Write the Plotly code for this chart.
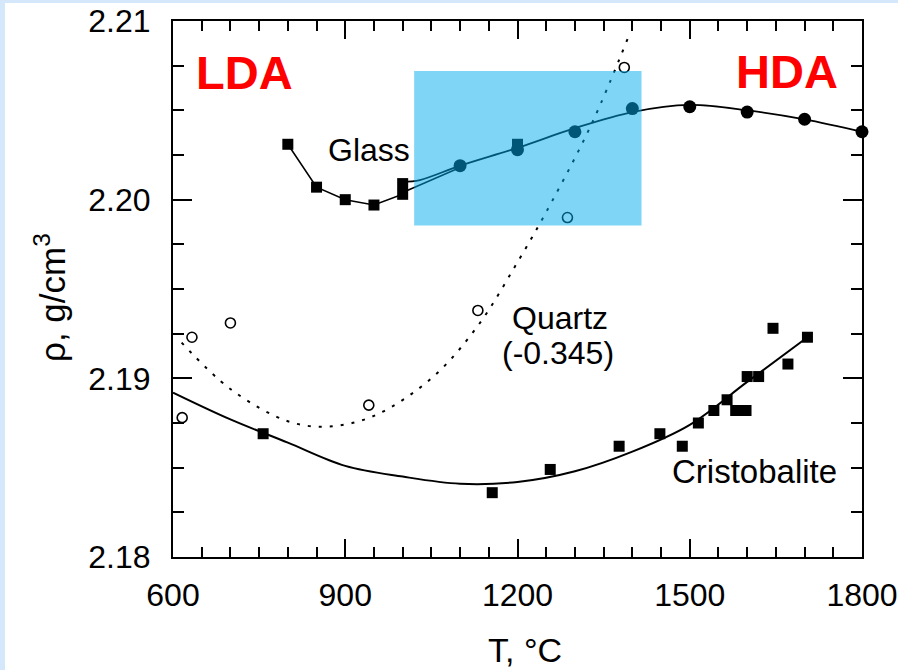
import plotly.graph_objects as go

# ---------------- data ----------------
glass_sq_T = [800, 850, 900, 950, 1000, 1000, 1200]
glass_sq_rho = [2.2031, 2.2007, 2.2000, 2.1997, 2.2003, 2.2009, 2.2031]

glass_ci_T = [1100, 1200, 1300, 1400, 1500, 1600, 1700, 1800]
glass_ci_rho = [2.2019, 2.2028, 2.2038, 2.2051, 2.2052, 2.2049, 2.2045, 2.2038]

glass_lda_line_T = [800, 850, 900, 950, 1000, 1000]
glass_lda_line_rho = [2.2031, 2.2007, 2.2000, 2.1997, 2.2003, 2.2009]

glass_fit_T = [1000, 1030, 1100, 1200, 1300, 1400, 1500, 1600, 1700, 1800]
glass_fit_rho = [2.2010, 2.2011, 2.2019, 2.2029, 2.2040, 2.2049, 2.2053, 2.2050, 2.2045, 2.2038]

glass_branch_T = [1000, 1100]
glass_branch_rho = [2.2004, 2.2018]

quartz_T = [616, 633, 700, 941, 1131, 1287, 1386]
quartz_rho = [2.1878, 2.1923, 2.1931, 2.1885, 2.1938, 2.1990, 2.2074]

quartz_fit_T = [615, 700, 800, 870, 950, 1050, 1130, 1200, 1260, 1330, 1393]
quartz_fit_rho = [2.1920, 2.1894, 2.1876, 2.1873, 2.1879, 2.1900, 2.1929, 2.1965, 2.1999, 2.2043, 2.2091]

crist_T = [757, 1156, 1257, 1377, 1448, 1487, 1515, 1542, 1565, 1580, 1598,
           1600, 1620, 1645, 1671, 1705]
crist_rho = [2.1869, 2.1836, 2.1849, 2.1862, 2.1869, 2.1862, 2.1875, 2.1882, 2.1888,
             2.1882, 2.1882, 2.1901, 2.1901, 2.1928, 2.1908, 2.1923]

crist_fit_T = [600, 700, 800, 900, 1000, 1100, 1200, 1300, 1400, 1500, 1600, 1705]
crist_fit_rho = [2.1892, 2.1877, 2.1864, 2.1851, 2.1845, 2.1841, 2.1842, 2.1848, 2.1859,
                 2.1874, 2.1898, 2.1923]

x_ticks = [600, 900, 1200, 1500, 1800]
y_ticks = [2.18, 2.19, 2.20, 2.21]

FONT = "Liberation Sans, Arial, Helvetica, sans-serif"

fig = go.Figure()

# fitted curves
fig.add_trace(go.Scatter(x=quartz_fit_T, y=quartz_fit_rho, mode="lines",
                         line=dict(color="black", width=2, dash="3px,8px", shape="spline", smoothing=1.0),
                         hoverinfo="skip"))
fig.add_trace(go.Scatter(x=crist_fit_T, y=crist_fit_rho, mode="lines",
                         line=dict(color="black", width=2, shape="spline", smoothing=1.0),
                         hoverinfo="skip"))
fig.add_trace(go.Scatter(x=glass_lda_line_T, y=glass_lda_line_rho, mode="lines",
                         line=dict(color="black", width=1.6), hoverinfo="skip"))
fig.add_trace(go.Scatter(x=glass_fit_T, y=glass_fit_rho, mode="lines",
                         line=dict(color="black", width=1.8, shape="spline", smoothing=1.0),
                         hoverinfo="skip"))
fig.add_trace(go.Scatter(x=glass_branch_T, y=glass_branch_rho, mode="lines",
                         line=dict(color="black", width=1.6), hoverinfo="skip"))

# markers
fig.add_trace(go.Scatter(x=quartz_T, y=quartz_rho, mode="markers",
                         marker=dict(symbol="circle-open", size=10, color="black", line=dict(width=1.6)),
                         cliponaxis=False))
fig.add_trace(go.Scatter(x=crist_T, y=crist_rho, mode="markers",
                         marker=dict(symbol="square", size=11, color="black"),
                         cliponaxis=False))
fig.add_trace(go.Scatter(x=glass_sq_T, y=glass_sq_rho, mode="markers",
                         marker=dict(symbol="square", size=11, color="black"),
                         cliponaxis=False))
fig.add_trace(go.Scatter(x=glass_ci_T, y=glass_ci_rho, mode="markers",
                         marker=dict(symbol="circle", size=13, color="black"),
                         cliponaxis=False))

# page: light-blue strips at left/top only
fig.add_shape(type="rect", xref="paper", yref="paper",
              x0=(5 - 173) / 689, x1=(905 - 173) / 689,
              y0=(557 - 680) / 536, y1=(557 - 3) / 536,
              fillcolor="white", line=dict(width=0), layer="below")

# translucent blue highlight box
fig.add_shape(type="rect", xref="x", yref="y",
              x0=1020, x1=1416, y0=2.19856, y1=2.2072,
              fillcolor="rgba(0,172,235,0.5)", line=dict(width=0), layer="above")

ann = [
    dict(text="LDA", x=725, y=2.2071, font=dict(size=47, color="#ff0000", family=FONT, weight="bold")),
    dict(text="HDA", x=1669, y=2.2072, font=dict(size=47, color="#ff0000", family=FONT, weight="bold")),
    dict(text="Glass", x=941, y=2.2028, font=dict(size=32, color="black", family=FONT)),
    dict(text="Quartz", x=1274, y=2.1934, font=dict(size=32, color="black", family=FONT)),
    dict(text="(-0.345)", x=1271, y=2.1914, font=dict(size=32, color="black", family=FONT)),
    dict(text="Cristobalite", x=1612, y=2.1848, font=dict(size=33, color="black", family=FONT)),
]
for a in ann:
    fig.add_annotation(xref="x", yref="y", showarrow=False, xanchor="center", yanchor="middle", **a)

# axis titles
fig.add_annotation(text="T, °C", xref="paper", yref="paper",
                   x=(525 - 173) / 689, y=(557 - 650) / 536, showarrow=False,
                   xanchor="center", yanchor="middle", font=dict(size=34, color="black", family=FONT))
fig.add_annotation(text="ρ, g/cm<sup>3</sup>", xref="paper", yref="paper",
                   x=(50 - 173) / 689, y=(557 - 298) / 536, showarrow=False, textangle=-90,
                   xanchor="center", yanchor="middle", font=dict(size=35, color="black", family=FONT))

axis_common = dict(showgrid=False, zeroline=False, showline=True, linecolor="black", linewidth=2,
                   mirror="allticks", ticks="inside", tickcolor="black", tickwidth=2, automargin=False,
                   tickfont=dict(size=32, color="black", family=FONT))

fig.update_xaxes(range=[600, 1800], tickvals=x_ticks, ticktext=[str(v) for v in x_ticks],
                 ticklen=18, ticklabelstandoff=9,
                 minor=dict(dtick=50, ticks="inside", ticklen=10, tickwidth=1.5, tickcolor="black"),
                 **axis_common)
fig.update_yaxes(range=[2.18, 2.21], tickvals=y_ticks, ticktext=[f"{v:.2f}" for v in y_ticks],
                 ticklen=19, ticklabelstandoff=14,
                 minor=dict(dtick=0.0025, ticks="inside", ticklen=11, tickwidth=1.5, tickcolor="black"),
                 **axis_common)

fig.update_layout(width=898, height=670, showlegend=False,
                  margin=dict(l=173, r=36, t=21, b=113, autoexpand=False),
                  paper_bgcolor="#d5e7fb", plot_bgcolor="white",
                  font=dict(family=FONT, color="black"))

fig.write_html("out.html")
